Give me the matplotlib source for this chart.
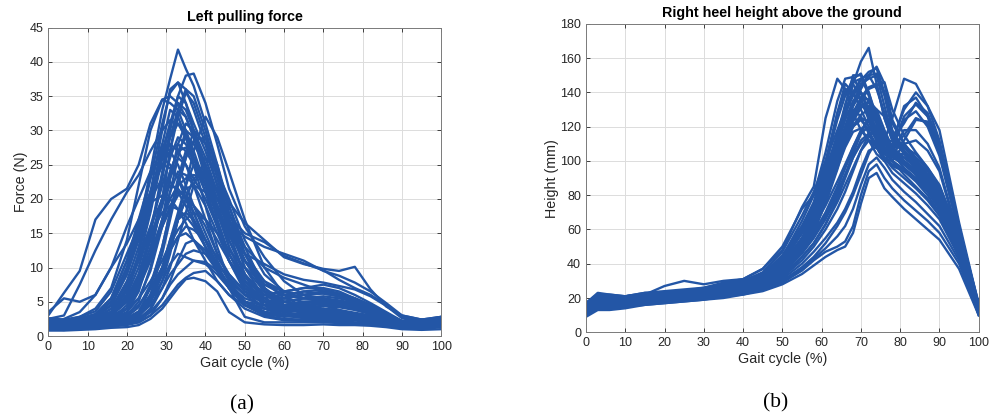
import matplotlib
matplotlib.use("Agg")
import matplotlib.pyplot as plt

plt.rcParams['font.family'] = ['Liberation Sans', 'DejaVu Sans']

LINE_COLOR = '#2356a6'

# ---------------- (a) left pulling force ----------------
force_x = [0, 4, 8, 12, 16, 20, 23, 26, 29, 31, 33, 35, 37, 40, 43, 46,
           50, 55, 60, 65, 70, 74, 78, 82, 86, 90, 95, 100]

# curves that start rising early in the cycle
force_early = [
    [3.0, 6.3, 9.5, 17.0, 20.0, 21.5, 25.0, 31.0, 34.5, 35.0, 34.0, 32.0, 29.0, 25.0, 20.0, 15.5, 11.0, 7.0, 5.0, 4.2, 3.8, 3.3, 3.0, 2.8, 2.4, 2.0, 2.4, 2.8],
    [2.5, 3.0, 7.5, 12.5, 17.0, 21.0, 23.5, 27.0, 30.0, 31.5, 31.0, 29.0, 26.0, 22.0, 18.0, 14.0, 9.0, 5.5, 4.0, 3.5, 3.0, 2.8, 2.6, 2.4, 2.1, 1.8, 2.0, 2.5],
    [2.0, 2.5, 3.5, 6.0, 10.0, 13.5, 17.0, 21.0, 25.0, 27.0, 28.0, 27.0, 25.0, 21.0, 16.0, 11.0, 7.0, 4.5, 3.5, 3.0, 2.8, 2.6, 2.5, 2.3, 2.0, 1.6, 1.8, 2.2],
    [3.5, 5.5, 5.0, 6.0, 10.0, 16.0, 20.0, 24.0, 26.0, 25.0, 23.0, 20.0, 17.0, 13.0, 10.0, 7.5, 5.0, 3.5, 3.0, 2.8, 2.6, 2.5, 2.4, 2.2, 2.0, 1.8, 2.2, 2.8],
]

# highest peaks
force_high = [
    [2.2, 2.0, 2.5, 3.0, 5.0, 10.0, 16.0, 24.0, 33.0, 37.5, 41.8, 39.0, 36.5, 31.0, 25.0, 18.0, 12.0, 7.0, 4.5, 3.5, 3.0, 2.7, 2.5, 2.3, 2.0, 1.6, 1.8, 2.0],
    [1.8, 1.6, 2.0, 2.5, 3.5, 7.0, 12.0, 19.0, 27.0, 31.0, 35.0, 38.0, 38.3, 34.0, 28.0, 21.5, 16.0, 11.5, 8.0, 6.0, 4.5, 3.8, 3.2, 2.8, 2.2, 1.8, 2.2, 2.6],
    [2.0, 1.8, 2.2, 2.8, 4.5, 9.0, 15.0, 23.0, 31.0, 35.5, 37.0, 36.0, 33.0, 28.0, 22.0, 16.0, 10.0, 6.5, 5.0, 4.5, 4.0, 3.6, 3.2, 2.8, 2.2, 1.8, 2.0, 2.4],
    [1.5, 1.4, 1.8, 2.2, 3.0, 5.5, 9.0, 15.0, 23.0, 29.0, 33.0, 36.0, 35.0, 30.0, 24.0, 17.0, 10.0, 5.5, 4.0, 3.8, 3.5, 3.2, 2.8, 2.4, 2.0, 1.5, 1.6, 2.0],
    [2.5, 2.2, 2.8, 4.0, 7.0, 14.0, 22.0, 30.0, 34.5, 34.0, 33.0, 30.0, 26.0, 21.0, 16.0, 12.0, 8.0, 5.0, 3.8, 3.5, 3.2, 3.0, 2.7, 2.5, 2.2, 1.7, 1.9, 2.3],
    [1.2, 1.0, 1.5, 1.8, 2.5, 4.0, 8.0, 15.0, 24.0, 30.0, 35.0, 34.0, 31.0, 27.0, 22.0, 17.0, 13.0, 10.0, 8.5, 7.5, 6.5, 5.8, 5.0, 4.0, 3.0, 2.0, 1.8, 2.0],
    [1.3, 1.2, 1.6, 2.0, 2.8, 6.0, 12.0, 21.0, 30.0, 36.0, 37.0, 34.0, 30.0, 24.0, 17.0, 11.0, 6.5, 4.0, 3.2, 3.0, 2.8, 2.6, 2.4, 2.2, 1.9, 1.5, 1.7, 2.0],
    [1.6, 1.5, 1.7, 2.0, 2.6, 4.0, 7.0, 12.0, 20.0, 27.0, 32.0, 35.5, 34.0, 29.0, 23.0, 17.0, 11.0, 6.5, 4.5, 4.5, 4.8, 4.6, 4.2, 3.5, 2.6, 1.7, 1.8, 2.1],
    [1.8, 1.7, 2.0, 2.4, 3.5, 6.5, 11.0, 18.0, 26.0, 31.0, 34.0, 33.0, 30.0, 25.0, 19.0, 13.0, 8.0, 5.0, 4.0, 4.2, 4.4, 4.2, 3.8, 3.2, 2.6, 1.8, 1.9, 2.2],
]

# bulk of the trials
force_mid = [
    [1.6, 1.5, 2.0, 2.5, 4.0, 8.0, 13.0, 20.0, 28.0, 33.0, 32.0, 29.0, 25.0, 19.0, 13.0, 8.0, 5.0, 3.5, 3.0, 3.2, 3.0, 2.8, 2.6, 2.4, 2.0, 1.5, 1.7, 2.0],
    [1.0, 1.2, 1.5, 1.8, 2.0, 3.0, 5.0, 10.0, 17.0, 23.0, 28.0, 31.0, 30.0, 26.0, 21.0, 15.0, 9.0, 5.0, 3.5, 3.0, 2.8, 2.6, 2.4, 2.2, 1.8, 1.3, 1.5, 1.8],
    [1.2, 1.0, 1.3, 1.5, 2.0, 2.5, 3.5, 7.0, 13.0, 18.0, 23.0, 27.0, 26.0, 23.0, 19.0, 15.0, 11.0, 8.0, 6.5, 6.0, 5.5, 5.0, 4.5, 3.5, 2.5, 1.5, 1.4, 1.6],
    [2.2, 2.0, 2.4, 3.0, 5.0, 10.0, 15.0, 21.0, 25.0, 24.5, 23.0, 21.0, 18.0, 14.0, 10.0, 7.0, 4.5, 3.5, 3.0, 3.5, 3.2, 3.0, 2.8, 2.6, 2.3, 2.0, 2.2, 2.6],
    [1.0, 0.9, 1.2, 1.5, 1.8, 2.2, 3.0, 6.0, 12.0, 17.0, 22.0, 26.0, 30.0, 28.0, 24.0, 19.0, 13.0, 7.0, 4.5, 4.0, 3.8, 3.5, 3.2, 2.8, 2.2, 1.4, 1.3, 1.5],
    [1.8, 1.6, 2.0, 2.6, 4.0, 7.5, 11.5, 16.0, 20.0, 22.0, 21.5, 20.0, 18.0, 14.0, 10.0, 7.0, 5.0, 4.5, 5.0, 5.5, 5.2, 4.8, 4.2, 3.6, 2.8, 2.0, 2.1, 2.4],
    [1.3, 1.2, 1.4, 1.6, 1.8, 2.0, 2.5, 4.0, 8.0, 12.0, 17.0, 22.0, 27.0, 32.0, 29.0, 24.0, 17.0, 10.0, 6.0, 4.0, 3.5, 3.2, 3.0, 2.6, 2.2, 1.6, 1.5, 1.8],
    [1.5, 1.4, 1.7, 2.0, 3.0, 5.0, 8.0, 13.0, 19.0, 23.0, 26.0, 25.0, 23.0, 20.0, 16.0, 12.0, 8.0, 6.0, 6.5, 7.0, 7.5, 7.0, 6.0, 4.8, 3.5, 2.2, 1.9, 2.0],
    [1.1, 1.0, 1.2, 1.4, 1.7, 2.0, 2.8, 5.0, 9.0, 13.0, 17.0, 20.0, 19.0, 17.0, 14.0, 11.0, 8.0, 6.5, 6.0, 6.5, 6.8, 6.2, 5.5, 4.5, 3.2, 2.0, 1.6, 1.8],
    [2.0, 1.8, 2.1, 2.6, 3.5, 5.5, 8.5, 14.0, 20.0, 24.0, 27.0, 29.0, 28.0, 25.0, 21.0, 16.0, 11.0, 7.5, 6.5, 7.0, 7.0, 6.5, 5.5, 4.5, 3.3, 2.2, 2.0, 2.3],
    [1.4, 1.3, 1.5, 1.7, 2.0, 2.4, 3.0, 5.0, 9.0, 13.0, 17.0, 20.0, 23.0, 24.0, 21.0, 17.0, 12.0, 8.0, 5.5, 5.0, 5.0, 4.8, 4.5, 3.8, 3.0, 1.8, 1.6, 1.8],
    [1.7, 1.5, 1.8, 2.2, 3.0, 4.0, 5.5, 8.0, 11.0, 13.5, 15.5, 17.0, 18.0, 17.0, 15.0, 12.5, 10.0, 7.5, 6.0, 5.5, 5.8, 5.5, 5.0, 4.2, 3.2, 2.0, 1.8, 2.0],
    [1.0, 0.9, 1.1, 1.4, 2.0, 3.5, 6.5, 12.0, 20.0, 27.0, 33.0, 32.0, 29.0, 23.0, 17.0, 12.0, 7.5, 5.0, 4.0, 3.6, 3.4, 3.2, 3.0, 2.6, 2.0, 1.4, 1.4, 1.6],
    [2.4, 2.2, 2.6, 3.2, 5.5, 11.0, 17.0, 23.0, 28.0, 27.0, 25.0, 22.0, 19.0, 15.0, 11.0, 8.0, 6.0, 5.5, 6.0, 6.5, 6.2, 5.8, 5.0, 4.0, 3.0, 2.2, 2.4, 2.8],
    [2.1, 1.9, 2.3, 2.8, 4.5, 9.0, 14.0, 20.0, 26.0, 29.0, 31.0, 30.0, 27.0, 22.0, 16.0, 11.0, 7.0, 5.0, 5.5, 6.0, 6.5, 6.0, 5.2, 4.2, 3.0, 2.0, 2.0, 2.4],
    [1.2, 1.1, 1.3, 1.6, 2.0, 2.6, 3.6, 6.0, 10.0, 14.0, 18.0, 22.0, 25.0, 23.0, 19.0, 14.0, 9.0, 6.0, 4.5, 4.5, 4.8, 4.5, 4.0, 3.3, 2.6, 1.6, 1.4, 1.6],
    [1.4, 1.3, 1.5, 1.8, 2.5, 4.5, 7.5, 11.5, 16.0, 19.0, 21.0, 20.5, 19.0, 16.0, 12.0, 9.0, 6.5, 5.0, 5.5, 6.0, 6.2, 5.8, 5.0, 4.0, 2.8, 1.8, 1.7, 2.0],
    [1.9, 1.8, 2.2, 2.8, 4.5, 9.5, 15.0, 21.0, 26.0, 28.0, 27.0, 25.0, 22.0, 17.0, 12.0, 8.5, 6.0, 5.0, 5.0, 5.5, 5.5, 5.0, 4.5, 3.8, 2.8, 2.0, 2.2, 2.5],
    [1.3, 1.2, 1.5, 1.8, 2.4, 3.5, 5.5, 9.5, 16.0, 21.0, 26.0, 30.0, 29.0, 24.0, 18.0, 13.0, 8.5, 6.0, 5.5, 6.0, 6.5, 6.2, 5.5, 4.5, 3.2, 2.0, 1.8, 2.0],
    [2.3, 2.1, 2.5, 3.2, 5.5, 11.0, 16.0, 20.0, 23.0, 22.5, 21.0, 19.0, 16.5, 13.0, 9.5, 7.0, 5.0, 4.0, 3.5, 3.8, 4.0, 3.8, 3.4, 3.0, 2.4, 1.9, 2.1, 2.5],
    [1.1, 1.0, 1.2, 1.4, 1.6, 2.0, 2.5, 3.8, 7.0, 10.0, 14.0, 18.0, 22.0, 26.0, 24.0, 20.0, 14.0, 9.0, 6.5, 5.5, 5.5, 5.2, 4.8, 4.0, 3.0, 1.6, 1.4, 1.7],
    [1.5, 1.4, 1.6, 1.9, 2.4, 3.2, 4.5, 7.0, 10.0, 12.5, 14.5, 16.0, 15.5, 14.0, 11.5, 9.0, 6.5, 5.0, 4.5, 4.8, 5.0, 4.8, 4.3, 3.6, 2.8, 1.8, 1.6, 1.9],
    [1.7, 1.6, 1.9, 2.4, 3.5, 7.0, 11.0, 15.0, 18.0, 19.0, 18.5, 17.5, 16.0, 13.0, 10.0, 7.5, 5.5, 4.5, 4.2, 4.5, 4.6, 4.4, 4.0, 3.4, 2.6, 1.9, 1.9, 2.2],
    [1.0, 1.0, 1.2, 1.5, 2.2, 4.0, 7.0, 11.0, 17.0, 21.0, 24.0, 23.5, 22.0, 19.0, 15.0, 11.0, 7.5, 4.5, 3.0, 2.8, 2.6, 2.5, 2.4, 2.2, 1.9, 1.4, 1.3, 1.5],
    [1.2, 1.1, 1.3, 1.6, 2.0, 2.8, 4.2, 7.5, 13.0, 18.0, 22.0, 26.0, 28.5, 29.0, 25.0, 19.0, 12.0, 6.5, 4.0, 3.5, 3.4, 3.2, 3.0, 2.6, 2.2, 1.5, 1.4, 1.6],
    [2.6, 2.4, 2.8, 3.6, 6.5, 12.0, 16.0, 19.5, 20.5, 20.0, 18.5, 16.5, 14.0, 11.0, 8.0, 6.0, 4.5, 4.0, 4.5, 5.0, 5.2, 5.0, 4.6, 3.8, 2.8, 2.0, 2.3, 2.7],
]

# curves that stay high during swing
force_tail = [
    [2.0, 1.8, 2.0, 2.4, 3.5, 6.0, 10.0, 16.0, 22.0, 26.0, 29.0, 28.0, 26.0, 23.0, 20.0, 17.5, 15.0, 13.7, 11.7, 10.6, 9.6, 8.2, 7.0, 6.0, 4.5, 2.8, 2.2, 2.0],
    [1.4, 1.3, 1.6, 2.0, 3.0, 5.0, 8.0, 12.0, 17.0, 20.0, 22.0, 23.0, 23.5, 23.0, 21.5, 19.5, 16.5, 14.0, 11.5, 10.5, 9.8, 9.5, 10.1, 6.8, 4.3, 3.0, 2.4, 2.2],
    [1.7, 1.6, 1.9, 2.3, 3.2, 5.0, 8.0, 12.0, 16.0, 18.5, 20.5, 21.5, 22.0, 21.0, 19.0, 16.5, 14.5, 13.0, 12.0, 11.0, 9.5, 8.8, 7.8, 6.5, 4.8, 3.0, 2.4, 2.2],
    [1.5, 1.4, 1.7, 2.1, 3.0, 5.5, 9.0, 14.0, 20.0, 24.0, 27.0, 27.5, 26.0, 22.0, 18.0, 14.5, 12.0, 10.5, 9.0, 8.2, 7.8, 7.3, 6.8, 5.8, 4.4, 2.6, 2.0, 1.9],
]

# low-force trials
force_low = [
    [1.0, 0.9, 1.1, 1.2, 1.4, 1.6, 2.0, 3.0, 5.5, 8.0, 11.0, 13.5, 14.0, 12.5, 10.0, 7.0, 4.5, 3.0, 2.5, 2.4, 2.3, 2.2, 2.0, 1.8, 1.6, 1.2, 1.0, 1.3],
    [1.3, 1.2, 1.3, 1.5, 1.7, 1.8, 2.0, 3.0, 4.5, 6.0, 7.5, 8.5, 9.2, 9.5, 8.0, 6.0, 4.0, 2.8, 2.3, 2.2, 2.1, 2.0, 1.9, 1.8, 1.6, 1.3, 1.2, 1.4],
    [1.5, 1.4, 1.5, 1.7, 2.0, 2.4, 3.2, 5.0, 8.0, 10.5, 12.0, 11.5, 11.0, 10.5, 9.0, 7.0, 5.0, 3.5, 3.0, 2.8, 2.7, 2.5, 2.3, 2.0, 1.8, 1.5, 1.4, 1.6],
    [1.1, 1.0, 1.2, 1.4, 1.5, 1.8, 2.2, 3.5, 5.5, 7.5, 9.0, 10.0, 11.0, 10.8, 9.5, 7.5, 5.0, 3.5, 3.0, 3.2, 3.4, 3.2, 3.0, 2.6, 2.2, 1.5, 1.3, 1.5],
    [1.6, 1.5, 1.6, 1.8, 2.0, 2.5, 3.5, 6.0, 9.5, 12.5, 14.5, 15.0, 14.0, 12.0, 9.5, 7.0, 4.5, 3.2, 2.8, 3.0, 3.0, 2.8, 2.6, 2.3, 2.0, 1.6, 1.6, 1.8],
    [0.8, 0.8, 0.9, 1.0, 1.2, 1.3, 1.6, 2.5, 4.0, 5.5, 7.0, 8.3, 8.5, 8.0, 6.5, 3.5, 2.0, 1.7, 1.6, 1.6, 1.7, 1.6, 1.6, 1.5, 1.3, 1.0, 0.9, 1.0],
    [1.2, 1.1, 1.3, 1.5, 1.8, 2.2, 3.0, 5.5, 10.0, 14.0, 17.0, 18.0, 17.0, 14.0, 10.5, 7.0, 2.8, 2.0, 2.0, 2.0, 2.0, 1.9, 1.8, 1.7, 1.5, 1.2, 1.2, 1.4],
    [1.4, 1.3, 1.4, 1.6, 1.9, 2.2, 3.0, 4.5, 7.0, 9.0, 10.5, 12.0, 12.5, 12.0, 10.5, 8.5, 6.0, 4.0, 3.0, 2.6, 2.5, 2.4, 2.3, 2.1, 1.8, 1.4, 1.4, 1.6],
]

# ---------------- (b) right heel height ----------------
heel_x = [0, 3, 6, 10, 15, 20, 25, 30, 35, 40, 45, 50, 55, 58, 61, 64,
          66, 68, 70, 72, 74, 76, 78, 81, 84, 87, 90, 95, 100]

# early lift-off
heel_early = [
    [16, 22, 21, 21, 23, 24, 25, 26, 29, 31, 37, 48, 73, 85, 125, 148, 142, 128, 118, 112, 108, 104, 100, 95, 90, 82, 72, 45, 12],
    [15, 20, 20, 20, 22, 23, 24, 25, 27, 29, 34, 44, 65, 80, 105, 135, 148, 149, 140, 128, 118, 110, 106, 102, 97, 90, 80, 52, 14],
    [13, 18, 18, 19, 20, 21, 22, 23, 25, 27, 31, 40, 58, 72, 95, 128, 145, 140, 130, 120, 112, 106, 104, 104, 100, 92, 82, 55, 15],
    [14, 19, 19, 19, 21, 22, 23, 24, 26, 28, 31, 41, 60, 75, 100, 128, 141, 145, 136, 124, 114, 107, 102, 98, 93, 86, 76, 49, 13],
    [12, 17, 17, 17, 19, 20, 21, 22, 24, 26, 29, 37, 53, 66, 86, 112, 128, 139, 136, 126, 116, 108, 103, 99, 94, 87, 77, 50, 12],
]

# single peak near 70 %
heel_main = [
    [14, 19, 18, 18, 20, 21, 22, 23, 25, 27, 30, 38, 55, 68, 85, 108, 125, 145, 158, 166, 145, 125, 112, 105, 100, 92, 82, 55, 13],
    [17, 23, 22, 21, 23, 23, 24, 26, 28, 30, 35, 47, 68, 82, 100, 118, 130, 140, 147, 152, 154, 140, 122, 110, 102, 95, 85, 57, 15],
    [12, 17, 17, 18, 19, 20, 21, 22, 24, 26, 29, 37, 52, 65, 85, 112, 132, 150, 150, 138, 125, 115, 108, 102, 96, 88, 78, 50, 11],
    [15, 20, 19, 19, 21, 22, 23, 24, 26, 28, 32, 42, 60, 74, 92, 115, 128, 140, 148, 150, 142, 128, 116, 108, 100, 92, 82, 54, 14],
    [13, 18, 17, 17, 19, 20, 21, 22, 24, 26, 29, 36, 50, 60, 75, 95, 110, 124, 135, 142, 144, 146, 130, 115, 105, 96, 85, 56, 13],
    [11, 16, 16, 17, 18, 19, 20, 21, 23, 25, 28, 35, 48, 60, 78, 100, 118, 132, 140, 135, 122, 112, 105, 98, 92, 85, 75, 48, 12],
    [16, 21, 20, 20, 22, 22, 23, 25, 27, 29, 33, 43, 58, 68, 82, 100, 112, 123, 131, 135, 130, 118, 108, 100, 94, 86, 76, 50, 16],
    [10, 15, 15, 16, 17, 18, 19, 20, 22, 24, 27, 34, 47, 58, 76, 100, 118, 130, 126, 116, 108, 102, 98, 94, 88, 80, 70, 45, 10],
    [14, 18, 18, 18, 20, 21, 22, 23, 25, 27, 30, 39, 53, 62, 74, 88, 98, 108, 117, 124, 124, 116, 106, 98, 92, 84, 74, 47, 12],
    [12, 16, 16, 17, 18, 19, 20, 21, 23, 25, 28, 36, 49, 58, 70, 85, 96, 106, 116, 120, 114, 106, 100, 95, 89, 82, 72, 46, 11],
    [17, 22, 22, 21, 22, 27, 30, 28, 30, 31, 37, 50, 72, 80, 95, 115, 128, 138, 145, 148, 150, 132, 115, 106, 98, 90, 80, 52, 13],
    [13, 18, 18, 18, 20, 21, 22, 23, 25, 27, 30, 39, 55, 68, 88, 115, 133, 146, 148, 140, 126, 114, 106, 100, 95, 88, 78, 51, 12],
    [15, 21, 20, 20, 21, 22, 23, 24, 26, 28, 32, 42, 58, 70, 86, 105, 120, 134, 144, 150, 151, 138, 118, 106, 99, 91, 81, 53, 14],
    [12, 17, 16, 17, 19, 20, 21, 22, 24, 25, 28, 36, 50, 60, 76, 98, 114, 128, 136, 136, 124, 112, 108, 108, 104, 96, 86, 56, 12],
    [11, 15, 15, 16, 18, 19, 20, 21, 23, 24, 27, 34, 46, 55, 66, 80, 92, 104, 116, 125, 130, 126, 114, 104, 97, 89, 79, 51, 12],
    [16, 22, 21, 21, 22, 23, 24, 25, 27, 29, 33, 44, 62, 76, 98, 124, 138, 148, 151, 140, 124, 112, 104, 99, 94, 87, 77, 50, 15],
    [13, 17, 17, 17, 19, 20, 21, 22, 24, 26, 29, 37, 51, 61, 77, 97, 110, 120, 124, 118, 108, 101, 97, 94, 90, 84, 75, 49, 12],
    [15, 20, 20, 20, 22, 23, 24, 25, 27, 29, 33, 43, 60, 72, 88, 106, 120, 132, 142, 150, 155, 145, 124, 110, 101, 92, 82, 54, 15],
]

# second bump in late swing
heel_double = [
    [15, 20, 20, 20, 21, 22, 23, 24, 26, 28, 32, 41, 58, 70, 88, 110, 124, 135, 140, 130, 118, 112, 125, 148, 145, 132, 118, 64, 16],
    [13, 18, 18, 18, 20, 21, 22, 23, 25, 27, 30, 39, 54, 65, 80, 98, 110, 120, 127, 130, 122, 110, 112, 130, 140, 132, 112, 62, 15],
    [17, 22, 21, 21, 22, 23, 24, 25, 28, 30, 34, 45, 62, 74, 90, 106, 115, 121, 125, 123, 112, 104, 110, 132, 137, 126, 108, 60, 17],
    [12, 17, 17, 17, 19, 20, 21, 22, 24, 26, 29, 37, 51, 62, 78, 96, 108, 117, 119, 112, 104, 100, 108, 124, 129, 120, 103, 58, 13],
    [14, 19, 19, 19, 20, 21, 22, 23, 25, 27, 31, 40, 55, 66, 82, 102, 115, 125, 131, 134, 128, 114, 108, 115, 125, 122, 105, 58, 14],
    [11, 16, 15, 16, 18, 19, 20, 21, 23, 25, 28, 35, 48, 57, 68, 82, 92, 102, 110, 115, 108, 100, 105, 118, 118, 110, 96, 55, 12],
    [16, 21, 21, 20, 22, 23, 24, 25, 27, 29, 33, 44, 60, 70, 84, 102, 116, 128, 137, 143, 145, 125, 112, 122, 134, 128, 110, 61, 16],
    [10, 15, 15, 16, 17, 18, 19, 20, 22, 24, 26, 32, 44, 52, 63, 78, 90, 102, 112, 116, 110, 101, 100, 110, 112, 106, 94, 54, 11],
    [14, 19, 18, 18, 20, 21, 22, 23, 25, 27, 30, 38, 52, 63, 79, 99, 112, 124, 132, 132, 122, 108, 104, 112, 124, 123, 108, 60, 14],
    [13, 18, 18, 18, 20, 21, 22, 23, 25, 27, 30, 38, 53, 64, 80, 100, 114, 126, 133, 128, 116, 106, 108, 126, 133, 126, 110, 60, 14],
    [12, 16, 16, 17, 18, 19, 20, 21, 23, 25, 27, 34, 47, 56, 68, 84, 96, 108, 118, 124, 120, 110, 104, 102, 100, 94, 84, 54, 12],
]

# late, low lift
heel_low = [
    [9, 13, 13, 14, 16, 17, 18, 19, 20, 22, 24, 28, 34, 39, 44, 48, 50, 58, 75, 90, 93, 84, 79, 72, 66, 60, 54, 37, 10],
    [10, 14, 14, 15, 17, 18, 19, 20, 21, 23, 25, 29, 36, 42, 47, 50, 53, 62, 80, 94, 98, 90, 84, 77, 71, 65, 58, 40, 11],
    [11, 15, 15, 15, 17, 18, 19, 20, 22, 23, 26, 31, 40, 47, 55, 64, 72, 82, 95, 106, 108, 100, 93, 87, 81, 74, 66, 44, 11],
    [10, 14, 14, 15, 16, 17, 18, 19, 21, 22, 25, 30, 38, 44, 52, 62, 70, 80, 92, 104, 112, 108, 100, 92, 85, 78, 70, 47, 12],
    [12, 16, 16, 16, 18, 19, 20, 21, 23, 24, 27, 33, 44, 52, 63, 76, 86, 96, 106, 112, 110, 102, 96, 90, 84, 77, 68, 45, 11],
    [10, 14, 14, 15, 17, 18, 19, 20, 21, 23, 25, 30, 37, 43, 49, 56, 62, 72, 86, 98, 102, 96, 89, 82, 76, 69, 62, 42, 10],
    [11, 15, 15, 16, 17, 18, 19, 20, 22, 24, 26, 32, 42, 50, 60, 72, 82, 94, 106, 115, 118, 112, 104, 96, 90, 83, 74, 48, 11],
]


def style_axes(ax, xlabel, ylabel, title, ymax, ystep):
    ax.set_xlim(0, 100)
    ax.set_ylim(0, ymax)
    ax.set_xticks(range(0, 101, 10))
    ax.set_yticks(range(0, ymax + 1, ystep))
    ax.grid(True, color='#dcdcdc', linewidth=0.7)
    ax.set_axisbelow(True)
    ax.tick_params(direction='in', top=True, right=True, length=3,
                   labelsize=9, colors='#262626', width=0.6)
    for sp in ax.spines.values():
        sp.set_color('#7a7a7a')
        sp.set_linewidth(0.7)
    ax.set_xlabel(xlabel, fontsize=10.3, color='#262626', labelpad=2)
    ax.set_ylabel(ylabel, fontsize=10.3, color='#262626', labelpad=1)
    ax.set_title(title, fontsize=10.3, fontweight='bold', pad=5)


fig = plt.figure(figsize=(9.91, 4.19), dpi=100)
ax1 = fig.add_axes([0.0487, 0.198, 0.3966, 0.736])
ax2 = fig.add_axes([0.5913, 0.207, 0.3963, 0.736])

for group in (force_low, force_mid, force_tail, force_high, force_early):
    for curve in group:
        ax1.plot(force_x, curve, color=LINE_COLOR, linewidth=1.7)

for group in (heel_low, heel_main, heel_double, heel_early):
    for curve in group:
        ax2.plot(heel_x, curve, color=LINE_COLOR, linewidth=1.7)

style_axes(ax1, 'Gait cycle (%)', 'Force (N)', 'Left pulling force', 45, 5)
style_axes(ax2, 'Gait cycle (%)', 'Height (mm)', 'Right heel height above the ground', 180, 20)

fig.text(242 / 991, 1 - 405 / 419, '(a)', ha='center', va='center',
         fontsize=15.5, family='Liberation Serif')
fig.text(776 / 991, 1 - 403 / 419, '(b)', ha='center', va='center',
         fontsize=15.5, family='Liberation Serif')

fig.savefig('out.png', dpi=100)
